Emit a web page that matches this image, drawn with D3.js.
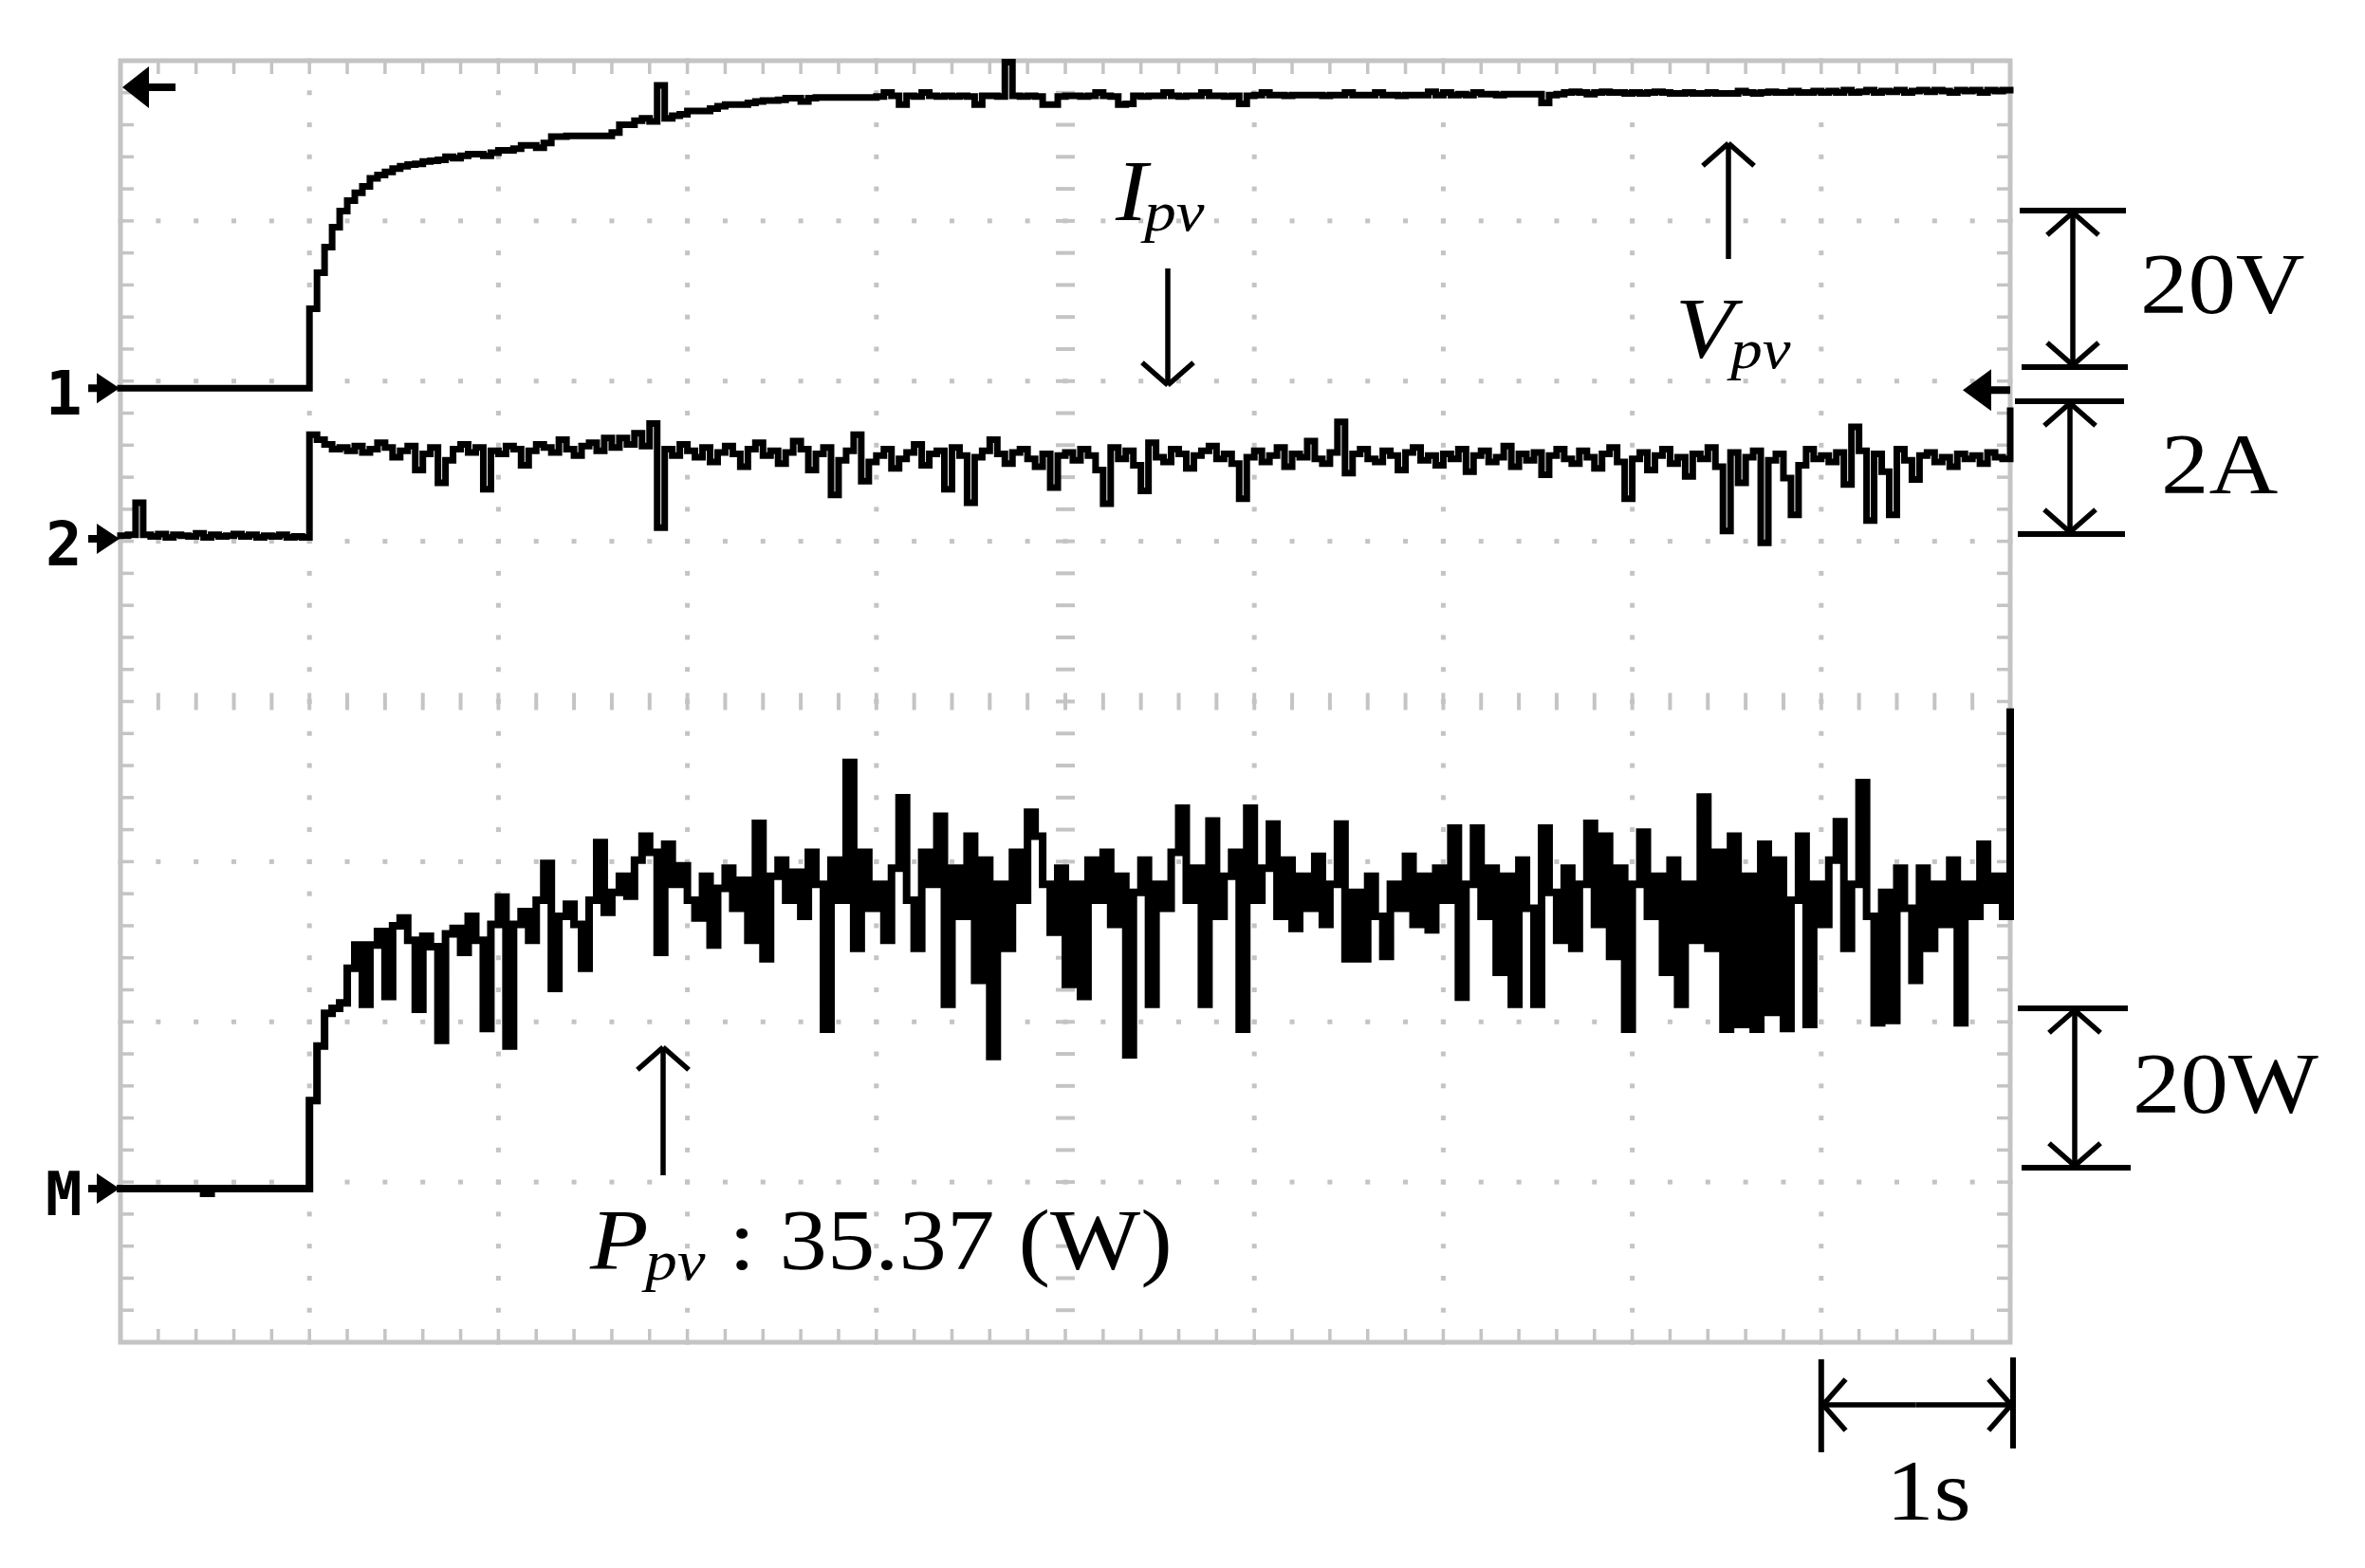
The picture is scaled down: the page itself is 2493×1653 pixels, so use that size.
<!DOCTYPE html>
<html><head><meta charset="utf-8">
<script src="https://cdn.jsdelivr.net/npm/d3@7"></script>
<style>html,body{margin:0;padding:0;background:#fff;} svg{display:block;}</style>
</head><body>
<svg id="chart" width="2493" height="1653"></svg>
<script>
// ================= DATA =================
const sampleInterval = 0.04; // seconds between oscilloscope samples (0 .. 10 s)

// Channel 1 : PV voltage (V)
const vpv = [
 0,0,0,0,0,0,0,0,0,0,0,0,0,0,0,0,0,0,0,0,0,0,0,0,0,
 9.9,14.4,17.6,20.1,22.1,23.4,24.4,25.2,26.2,26.6,27.0,27.4,27.7,27.9,28.0,28.3,28.4,28.5,28.9,28.7,29.0,29.2,29.2,29.0,29.4,
 29.7,29.7,29.9,30.3,30.3,30.0,30.6,31.4,31.4,31.5,31.5,31.5,31.5,31.5,31.5,31.9,32.9,32.9,33.4,33.7,33.3,37.8,33.7,34.0,34.2,
 34.6,34.6,34.6,34.9,35.2,35.4,35.4,35.4,35.6,35.8,35.9,35.9,36.0,36.2,36.2,35.8,36.2,36.3,36.3,36.3,36.3,36.3,36.3,36.3,36.3,
 36.4,36.9,36.5,35.4,36.5,36.4,36.9,36.5,36.4,36.5,36.4,36.5,36.4,35.4,36.5,36.5,36.4,40.7,36.5,36.4,36.5,36.4,35.4,35.4,36.4,
 36.5,36.5,36.4,36.5,36.9,36.5,36.4,35.4,35.5,36.5,36.4,36.5,36.5,36.9,36.5,36.4,36.5,36.5,36.9,36.5,36.5,36.4,36.5,35.5,36.5,
 36.6,36.9,36.6,36.6,36.5,36.6,36.6,36.6,36.6,36.5,36.6,36.6,36.9,36.6,36.6,36.6,36.9,36.6,36.6,36.5,36.6,36.6,36.6,37.0,36.6,
 36.9,36.6,36.7,36.6,36.9,36.7,36.7,36.6,36.7,36.7,36.7,36.7,36.7,35.6,36.6,36.7,36.9,37.0,36.9,36.7,36.9,37.0,36.9,36.9,36.8,
 36.9,36.8,36.9,37.0,36.9,36.8,36.8,36.9,36.8,36.8,36.9,36.8,36.8,36.8,37.1,36.9,36.8,36.9,37.0,36.9,36.9,37.1,36.9,36.9,37.1,
 36.9,37.1,36.9,37.2,36.9,37.0,37.2,36.9,37.1,37.0,37.2,36.9,37.1,37.2,37.0,37.2,37.1,36.9,37.2,37.1,37.2,36.9,37.2,37.1,37.2,
 37.2
];

// Channel 2 : PV current (A)
const ipv = [
 0.04,0.05,0.45,0.05,0.03,0.06,0.02,0.05,0.04,0.03,0.07,0.02,0.05,0.03,0.04,0.06,0.03,0.05,0.02,0.04,0.03,0.05,0.02,0.03,0.02,
 1.30,1.24,1.18,1.12,1.14,1.10,1.16,1.08,1.12,1.20,1.14,1.02,1.10,1.16,0.86,1.06,1.14,0.70,0.98,1.12,1.18,1.08,1.14,0.62,1.10,
 1.06,1.16,1.12,0.92,1.10,1.18,1.14,1.08,1.24,1.12,1.04,1.16,1.20,1.10,1.26,1.14,1.26,1.18,1.32,1.16,1.44,0.14,1.12,1.04,1.18,
 1.10,1.02,1.14,0.96,1.08,1.16,1.06,0.90,1.12,1.20,1.04,1.10,0.94,1.08,1.22,1.12,0.86,1.06,1.14,0.55,0.98,1.10,1.30,0.72,0.96,
 1.04,1.12,0.88,1.00,1.08,1.18,0.92,1.06,1.10,0.62,1.14,1.04,0.45,1.02,1.10,1.24,1.06,0.94,1.08,1.12,1.00,0.90,1.06,0.64,1.04,
 1.08,0.98,1.12,1.04,0.86,0.44,1.14,1.00,1.10,0.92,0.60,1.20,1.02,0.96,1.12,1.06,0.88,1.04,1.10,1.16,1.00,1.06,0.94,0.50,1.02,
 1.10,0.96,1.04,1.14,0.90,1.06,1.02,1.22,1.00,0.94,1.08,1.46,0.82,1.06,1.12,1.00,0.96,1.10,1.04,0.86,1.08,1.14,0.98,1.04,0.92,
 1.06,1.00,1.12,0.84,1.04,1.10,0.96,1.02,1.16,0.90,1.06,0.98,1.08,0.80,1.04,1.12,1.00,0.94,1.10,1.02,0.88,1.06,1.14,0.96,0.50,
 1.00,1.08,0.86,1.04,1.12,0.94,1.02,0.78,1.06,1.00,1.14,0.90,0.10,1.08,0.70,1.02,1.10,-0.05,0.98,1.06,0.76,0.30,0.92,1.12,1.00,
 1.04,0.96,1.08,0.68,1.40,1.10,0.23,1.06,0.84,0.30,1.12,0.98,0.74,1.04,1.08,0.96,1.02,0.90,1.06,1.00,1.04,0.94,1.08,1.02,1.00,
 1.60
];

// Math channel M : PV power (W)
const ppv = [
 0,0,0,0,0,0,0,0,0,0,0,-0.6,0,0,0,0,0,0,0,0,0,0,0,0,0,
 11,17.8,21.9,22.5,23.2,27.5,30.4,23,30.4,32.1,24,32.8,33.8,31,22.4,31.5,30.2,18.5,31.8,32.5,29.5,34,31,20,33,
 36.4,17.8,33,34.6,31,36,40.6,25,34,35.5,33,27.5,36,43.2,34.5,37,39,36.5,41,44,42,29.5,43,38,40.3,
 36,33.8,39,30.4,37.5,40,35,38.5,31,45.6,28.7,39,41,36,39.5,34,42,38,19.9,41,36,53.2,30,42,35,
 38,31,40,48.8,36,30,42,38,46.5,23,40,34,44,26,41,16.5,38,30,42,36,47,44,38,32,40,
 25.5,38,24,41,36,42,33,39,16.7,37,41,23,38,35,42,47.5,36,40,23,45.9,34,39,42,19.9,47.5,
 36,40,45.5,34,41,32.5,39,35,41.5,33,38,45.5,28.7,37,28.7,39,34,29,38,35,41.5,33,39,32.3,40,
 36,45,23.9,38,45,34,40,27,39,23,41,35,23,45,37,31,40,30,38,45.6,33,44,29,40,19.9,
 38,44.5,34,39,27,41,23,38,31,48.9,30,42,19.9,44,20.5,39,19.9,43,22,41,20,36,44,20.5,38,
 33,41,45.8,30,38,50.7,34,20.7,37,21,40,35,26,40,30,38,33,41,20.7,38,34,43,36,39,34,
 59.5
];

const channelNames = ["1", "2", "M"];
const scaleLabels = ["20V", "2A", "20W"];
const timeLabel = "1s";
const readout = ": 35.37 (W)";

// ================= LAYOUT =================
const svg = d3.select("#chart");
const L = 127, R = 2119, T = 64, B = 1415;
const nX = 10, nY = 8;
const x = d3.scaleLinear().domain([0, nX]).range([L, R]);       // seconds (1 s / div)
const yDiv = d3.scaleLinear().domain([0, nY]).range([B, T]);    // screen divisions
const grey = "#c4c4c4";
const serif = "'Times New Roman','Liberation Serif',serif";
const FS = 90, SUB = 60, SX = 1.12;

svg.append("rect").attr("width", 2493).attr("height", 1653).attr("fill", "#fff");

// ---- graticule ----
const g = svg.append("g");
const minorX = d3.range(0, nX * 5 + 1).map(i => i / 5);
const minorY = d3.range(0, nY * 5 + 1).map(i => i / 5);
for (let k = 1; k < nX; k++) {
  if (k === 5) continue;
  minorY.forEach(v => g.append("rect").attr("x", x(k) - 2.5).attr("y", yDiv(v) - 2.5)
    .attr("width", 5).attr("height", 5).attr("fill", grey));
}
for (let j = 1; j < nY; j++) {
  if (j === 4) continue;
  minorX.forEach(v => g.append("rect").attr("x", x(v) - 2.5).attr("y", yDiv(j) - 2.5)
    .attr("width", 5).attr("height", 5).attr("fill", grey));
}
minorY.forEach(v => g.append("rect").attr("x", x(5) - 10).attr("y", yDiv(v) - 2)
  .attr("width", 20).attr("height", 4).attr("fill", grey));
minorX.forEach(v => g.append("rect").attr("x", x(v) - 2).attr("y", yDiv(4) - 9)
  .attr("width", 4).attr("height", 18).attr("fill", grey));
minorX.forEach(v => {
  g.append("rect").attr("x", x(v) - 1.75).attr("y", T).attr("width", 3.5).attr("height", 14).attr("fill", grey);
  g.append("rect").attr("x", x(v) - 1.75).attr("y", B - 14).attr("width", 3.5).attr("height", 14).attr("fill", grey);
});
minorY.forEach(v => {
  g.append("rect").attr("x", L).attr("y", yDiv(v) - 1.75).attr("width", 14).attr("height", 3.5).attr("fill", grey);
  g.append("rect").attr("x", R - 14).attr("y", yDiv(v) - 1.75).attr("width", 14).attr("height", 3.5).attr("fill", grey);
});
g.append("rect").attr("x", L).attr("y", T).attr("width", R - L).attr("height", B - T)
  .attr("fill", "none").attr("stroke", grey).attr("stroke-width", 5);

// ---- traces ----
const channels = [
  { values: vpv, perDiv: 20, offset: 5.956, w: 7 },
  { values: ipv, perDiv: 2, offset: 5.015, w: 7 },
  { values: ppv, perDiv: 20, offset: 0.959, w: 8 }
];
channels.forEach(ch => {
  const line = d3.line()
    .x((d, i) => x(i * sampleInterval))
    .y(d => yDiv(ch.offset + d / ch.perDiv))
    .curve(d3.curveStepAfter);
  svg.append("path").datum(ch.values).attr("d", line)
    .attr("fill", "none").attr("stroke", "#000").attr("stroke-width", ch.w)
    .attr("stroke-linejoin", "miter").attr("stroke-linecap", "square");
});

// ---- channel markers on the left ----
channels.forEach((ch, i) => {
  const gy = yDiv(ch.offset);
  svg.append("text").attr("x", 48).attr("y", gy + 28).text(channelNames[i])
    .attr("font-family", "'DejaVu Sans Mono',monospace").attr("font-weight", "bold")
    .attr("font-size", 64).attr("fill", "#000");
  svg.append("path")
    .attr("d", `M${L - 34},${gy - 4} h9 v-12 l24,16 l-24,16 v-12 h-9 z`)
    .attr("fill", "#000");
});
// trigger / level markers
svg.append("path").attr("d", `M${L + 2},92 l28,-22 v18 h28 v8 h-28 v18 z`).attr("fill", "#000");
svg.append("path").attr("d", `M${R - 50},${yDiv(channels[0].offset) + 2} l30,-22 v18 h20 v8 h-20 v18 z`).attr("fill", "#000");

// ---- annotation helpers ----
function arrow(x1, y1, x2, y2) {
  const a = svg.append("g").attr("stroke", "#000").attr("stroke-width", 5.5).attr("fill", "none");
  a.append("line").attr("x1", x1).attr("y1", y1).attr("x2", x2).attr("y2", y2);
  const ang = Math.atan2(y2 - y1, x2 - x1), hl = 36, ha = 0.85;
  [ -ha, ha ].forEach(s => a.append("line").attr("x1", x2).attr("y1", y2)
    .attr("x2", x2 - hl * Math.cos(ang + s)).attr("y2", y2 - hl * Math.sin(ang + s)));
}
function hbar(x1, x2, y) {
  svg.append("line").attr("x1", x1).attr("x2", x2).attr("y1", y).attr("y2", y)
    .attr("stroke", "#000").attr("stroke-width", 6);
}
function vbar(xx, y1, y2) {
  svg.append("line").attr("x1", xx).attr("x2", xx).attr("y1", y1).attr("y2", y2)
    .attr("stroke", "#000").attr("stroke-width", 6);
}
function label(tx, ty, str, anchor) {
  svg.append("g").attr("transform", `translate(${tx},${ty}) scale(${SX},1)`)
    .append("text").text(str).attr("font-family", serif).attr("font-size", FS)
    .attr("text-anchor", anchor || "start").attr("fill", "#000");
}
function symbol(tx, ty, main, sub, tail) {
  const t = svg.append("g").attr("transform", `translate(${tx},${ty}) scale(${SX},1)`)
    .append("text").attr("font-family", serif).attr("fill", "#000");
  t.append("tspan").text(main).attr("font-size", FS).attr("font-style", "italic");
  t.append("tspan").text(sub).attr("font-size", SUB).attr("font-style", "italic").attr("dy", 11).attr("dx", -3);
  if (tail) t.append("tspan").text(tail).attr("font-size", FS).attr("dy", -11).attr("dx", 22);
}

// ---- signal labels ----
symbol(1176, 232, "I", "pv");
arrow(1231, 283, 1231, 406);

symbol(1766, 377, "V", "pv");
arrow(1822, 273, 1822, 151);

symbol(622, 1338, "P", "pv", readout);
arrow(699, 1239, 699, 1104);

// ---- scale bars ----
hbar(2129, 2241, 222); hbar(2131, 2243, 387);
arrow(2185, 305, 2185, 224); arrow(2185, 305, 2185, 385);
label(2256, 330, scaleLabels[0]);
hbar(2124, 2239, 423); hbar(2127, 2240, 563);
arrow(2182, 493, 2182, 425); arrow(2182, 493, 2182, 561);
label(2278, 520, scaleLabels[1]);
hbar(2127, 2243, 1063); hbar(2131, 2246, 1231);
arrow(2187, 1147, 2187, 1065); arrow(2187, 1147, 2187, 1229);
label(2248, 1173, scaleLabels[2]);
vbar(x(9), 1433, 1531); vbar(x(10) + 3, 1431, 1527);
arrow((x(9) + x(10)) / 2, 1481, x(9) + 2, 1481); arrow((x(9) + x(10)) / 2, 1481, x(10) + 1, 1481);
label(2033, 1602, timeLabel, "middle");
</script>
</body></html>
